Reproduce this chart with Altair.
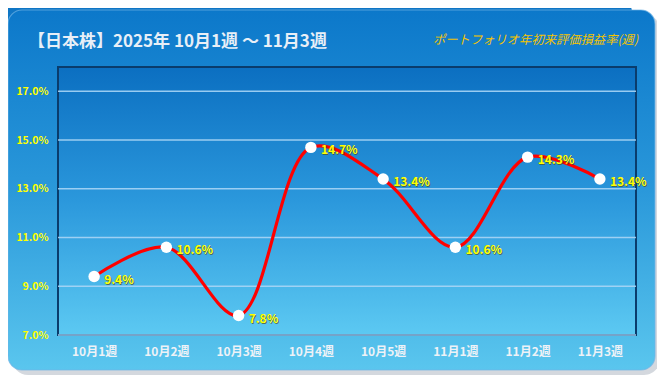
import altair as alt
import pandas as pd

weeks = ["10月1週", "10月2週", "10月3週", "10月4週", "10月5週", "11月1週", "11月2週", "11月3週"]
rates = [9.4, 10.6, 7.8, 14.7, 13.4, 10.6, 14.3, 13.4]
y_ticks = [7, 9, 11, 13, 15, 17]
title_text = "【日本株】2025年 10月1週 ～ 11月3週"
subtitle_text = "ポートフォリオ年初来評価損益率(週)"

FONT = "Noto Sans CJK JP"
W, H = 578, 268

df = pd.DataFrame({"week": weeks, "rate": rates, "label": [f"{v:.1f}%" for v in rates]})
grid_df = pd.DataFrame({"rate": y_ticks})
one = pd.DataFrame({"a": [0]})

yscale = alt.Scale(domain=[7, 18], nice=False, zero=False)
xaxis = alt.Axis(labelAngle=0, labelColor="#eef2f7", labelFontSize=12,
                 labelFontWeight="bold", labelPadding=11, domain=False,
                 ticks=False, grid=False, labelFont=FONT, zindex=2)
yaxis = alt.Axis(values=y_ticks, labelExpr="format(datum.value, '.1f') + '%'",
                 labelColor="#ffff00", labelFontSize=10.5, labelFontWeight="bold",
                 labelPadding=10, domain=False, ticks=False, grid=False,
                 labelFont=FONT, zindex=2)
xenc = alt.X("week:N", sort=weeks, title=None, axis=xaxis)
yenc = alt.Y("rate:Q", scale=yscale, title=None, axis=yaxis)


def grad(stops):
    return alt.LinearGradient(gradient="linear", x1=0, x2=0, y1=0, y2=1,
                              stops=[alt.GradientStop(color=c, offset=o) for o, c in stops])


back = alt.Chart(one).mark_rect(
    cornerRadius=12, fill=grad([(0, "#0d74c4"), (1, "#4fb8e6")])
).encode(x=alt.value(-58), x2=alt.value(574), y=alt.value(-67), y2=alt.value(289))

shadow = alt.Chart(one).mark_rect(
    cornerRadius=16, fill="#c9ced6", opacity=0.8
).encode(x=alt.value(-46), x2=alt.value(602), y=alt.value(-53), y2=alt.value(308))

card = alt.Chart(one).mark_rect(
    cornerRadius=14, fill=grad([(0, "#0c78ca"), (0.5, "#2a98da"), (1, "#5ac6ee")]),
    stroke="#6fb4e6", strokeWidth=1.2, strokeOpacity=0.7
).encode(x=alt.value(-50), x2=alt.value(597), y=alt.value(-57), y2=alt.value(303))

plot_bg = alt.Chart(one).mark_rect(
    fill=grad([(0, "#0b6fc1"), (0.5, "#2b98dc"), (1, "#5cc9f2")]),
    stroke="#0a3c6c", strokeWidth=2
).encode(x=alt.value(0), x2=alt.value(W), y=alt.value(0), y2=alt.value(H))

grid = alt.Chart(grid_df).mark_rule(color="#a9d5f5", strokeWidth=1.5, opacity=0.9).encode(
    y=yenc
)

line = alt.Chart(df).mark_line(color="#ff0000", strokeWidth=3.2, interpolate="catmull-rom").encode(
    x=xenc, y=yenc
)

points = alt.Chart(df).mark_circle(size=130, color="#ffffff", opacity=1).encode(
    x=xenc, y=yenc
)

label_shadow = alt.Chart(df).mark_text(
    align="left", baseline="middle", dx=11, dy=4, fontSize=12, fontWeight="bold",
    font=FONT, color="#50501a", opacity=0.7
).encode(x=xenc, y=yenc, text="label:N")

labels = alt.Chart(df).mark_text(
    align="left", baseline="middle", dx=10, dy=3, fontSize=12, fontWeight="bold",
    font=FONT, color="#ffff00"
).encode(x=xenc, y=yenc, text="label:N")

title = alt.Chart(one).mark_text(
    align="left", baseline="middle", fontSize=17, fontWeight="bold", font=FONT,
    color="#e8eff7", text=title_text
).encode(x=alt.value(-30), y=alt.value(-25))

subtitle = alt.Chart(one).mark_text(
    align="left", baseline="middle", fontSize=12.3, fontStyle="italic", font=FONT,
    color="#f4c400", text=subtitle_text
).encode(x=alt.value(375), y=alt.value(-27))

chart = alt.layer(
    back, shadow, card, plot_bg, grid, line, points, label_shadow, labels,
    title, subtitle
).properties(
    width=W, height=H,
    autosize=alt.AutoSizeParams(type="none"),
    padding={"left": 50, "top": 59, "right": 21, "bottom": 41},
    background="#ffffff",
).configure_view(stroke=None).configure(font=FONT)

chart.save("out.html", embed_options={"renderer": "svg", "actions": False})
